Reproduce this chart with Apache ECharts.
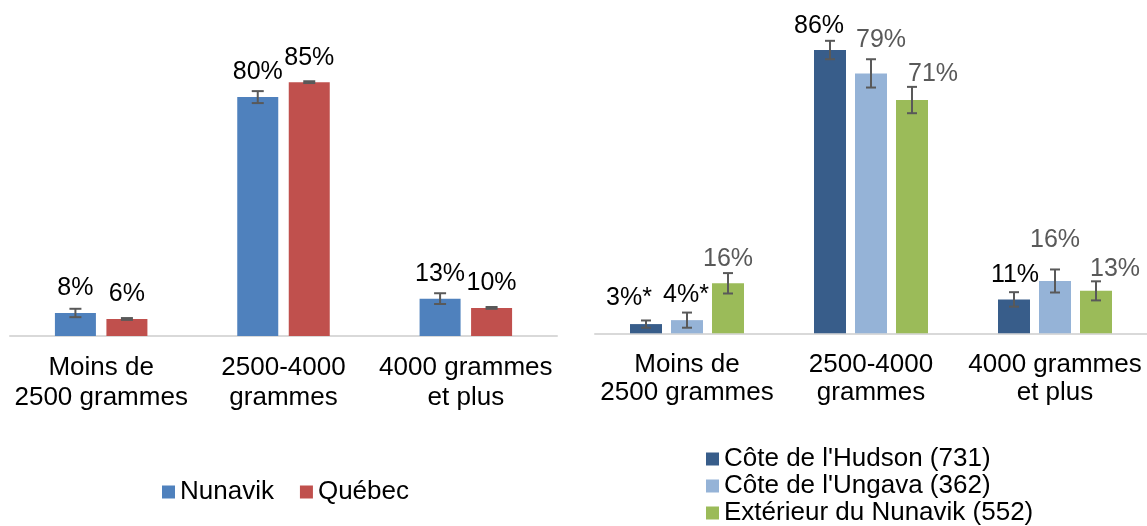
<!DOCTYPE html>
<html lang="fr">
<head>
    <meta charset="UTF-8">
    <title>Poids à la naissance</title>
    <script src="https://cdn.jsdelivr.net/npm/echarts@6/dist/echarts.min.js"></script>
    <style>
        html, body { margin: 0; padding: 0; background: #fff; }
        #main { width: 1147px; height: 526px; }
    </style>
</head>
<body>
<div id="main"></div>
<script type="text/javascript">
    // catégories de poids
    var categories = ['Moins de\n2500 grammes', '2500-4000\ngrammes', '4000 grammes\net plus'];

    // graphique de gauche
    var nunavik = [7.7, 79.9, 12.5];
    var nunavikErr = [1.4, 2.0, 1.8];
    var nunavikLabels = ['8%', '80%', '13%'];
    var quebec = [5.7, 84.9, 9.4];
    var quebecErr = [0.3, 0.3, 0.3];
    var quebecLabels = ['6%', '85%', '10%'];

    // graphique de droite
    var hudson = [2.8, 86.1, 10.3];
    var hudsonErr = [1.1, 2.8, 2.2];
    var hudsonLabels = ['3%*', '86%', '11%'];
    var ungava = [4.0, 79.0, 15.9];
    var ungavaErr = [2.3, 4.3, 3.5];
    var ungavaLabels = ['4%*', '79%', '16%'];
    var exterieur = [15.2, 70.9, 12.9];
    var exterieurErr = [3.1, 4.0, 2.9];
    var exterieurLabels = ['16%', '71%', '13%'];

    // décalages des étiquettes (style seulement)
    var hudsonShift = [[-17, -1], [-11, 1], [1, 0]];
    var ungavaShift = [[-1, -1], [10, -9], [0, -16]];
    var exterieurShift = [[0, 0], [21, -1], [19, 3]];
    var ungavaColors = ['#000', '#595959', '#595959'];

    var FONT = "'Liberation Sans', Arial, sans-serif";
    var L_W = 41, L_GAP = 10.5;
    var R_W = 32, R_GAP = 9;

    var myChart = echarts.init(document.getElementById('main'));

    function barData(vals, labels, shifts, colors) {
        return vals.map(function (v, i) {
            var item = {value: v, label: {}};
            if (shifts) item.label.offset = shifts[i];
            if (colors) item.label.color = colors[i];
            return item;
        });
    }

    function barSeries(name, vals, labels, color, axis, w, gap, labelColor, shifts, colors) {
        return {
            name: name,
            type: 'bar',
            xAxisIndex: axis,
            yAxisIndex: axis,
            barWidth: w,
            barGap: (gap / w * 100) + '%',
            data: barData(vals, labels, shifts, colors),
            itemStyle: {color: color},
            label: {
                show: true,
                position: 'top',
                distance: 12,
                fontFamily: FONT,
                fontSize: 25,
                color: labelColor,
                formatter: function (p) { return labels[p.dataIndex]; }
            },
            z: 2
        };
    }

    // barres d'erreur
    function errSeries(vals, errs, axis, offset, cap) {
        return {
            type: 'custom',
            name: 'err',
            xAxisIndex: axis,
            yAxisIndex: axis,
            silent: true,
            z: 5,
            data: vals.map(function (v, i) { return [i, v, errs[i]]; }),
            renderItem: function (params, api) {
                var i = api.value(0);
                var hi = api.coord([i, api.value(1) + api.value(2)]);
                var lo = api.coord([i, api.value(1) - api.value(2)]);
                var x = hi[0] + offset;
                var st = {stroke: '#595959', lineWidth: 2};
                return {
                    type: 'group',
                    children: [
                        {type: 'line', shape: {x1: x, y1: hi[1], x2: x, y2: lo[1]}, style: st},
                        {type: 'line', shape: {x1: x - cap / 2, y1: hi[1], x2: x + cap / 2, y2: hi[1]}, style: st},
                        {type: 'line', shape: {x1: x - cap / 2, y1: lo[1], x2: x + cap / 2, y2: lo[1]}, style: st}
                    ]
                };
            }
        };
    }

    function catAxis(idx, lh, margin) {
        return {
            type: 'category',
            gridIndex: idx,
            data: categories,
            axisTick: {show: false},
            axisLine: {lineStyle: {color: '#d9d9d9', width: 2}},
            axisLabel: {
                interval: 0,
                fontFamily: FONT,
                fontSize: 26,
                lineHeight: lh,
                color: '#000',
                margin: margin
            }
        };
    }

    var lOff = (L_W + L_GAP) / 2;
    var rOff = R_W + R_GAP;

    myChart.setOption({
        animation: false,
        grid: [
            {left: 10, width: 547, top: 37, bottom: 190, outerBoundsMode: 'none'},
            {left: 595, width: 552, top: 4.3, bottom: 192.7, outerBoundsMode: 'none'}
        ],
        xAxis: [catAxis(0, 30, 17), catAxis(1, 28, 18)],
        yAxis: [
            {type: 'value', gridIndex: 0, min: 0, max: 100, show: false},
            {type: 'value', gridIndex: 1, min: 0, max: 100, show: false}
        ],
        legend: [
            {
                data: ['Nunavik', 'Québec'],
                left: 162, top: 479, padding: 0,
                icon: 'rect', itemWidth: 13, itemHeight: 13, itemGap: 26,
                textStyle: {fontFamily: FONT, fontSize: 26, color: '#000'}
            },
            {
                data: ["Côte de l'Hudson (731)", "Côte de l'Ungava (362)", 'Extérieur du Nunavik (552)'],
                orient: 'vertical',
                left: 706, top: 446, padding: 0, height: 80,
                icon: 'rect', itemWidth: 13, itemHeight: 13, itemGap: 1,
                textStyle: {fontFamily: FONT, fontSize: 26, lineHeight: 26, color: '#000'}
            }
        ],
        series: [
            barSeries('Nunavik', nunavik, nunavikLabels, '#4f81bd', 0, L_W, L_GAP, '#000'),
            barSeries('Québec', quebec, quebecLabels, '#c0504d', 0, L_W, L_GAP, '#000'),
            errSeries(nunavik, nunavikErr, 0, -lOff, 12),
            errSeries(quebec, quebecErr, 0, lOff, 12),
            barSeries("Côte de l'Hudson (731)", hudson, hudsonLabels, '#385d8a', 1, R_W, R_GAP, '#000', hudsonShift),
            barSeries("Côte de l'Ungava (362)", ungava, ungavaLabels, '#95b3d7', 1, R_W, R_GAP, '#595959', ungavaShift, ungavaColors),
            barSeries('Extérieur du Nunavik (552)', exterieur, exterieurLabels, '#9bbb59', 1, R_W, R_GAP, '#595959', exterieurShift),
            errSeries(hudson, hudsonErr, 1, -rOff, 10),
            errSeries(ungava, ungavaErr, 1, 0, 10),
            errSeries(exterieur, exterieurErr, 1, rOff, 10)
        ]
    });

    window.addEventListener("resize", function () {
        myChart.resize();
    });
</script>
</body>
</html>
